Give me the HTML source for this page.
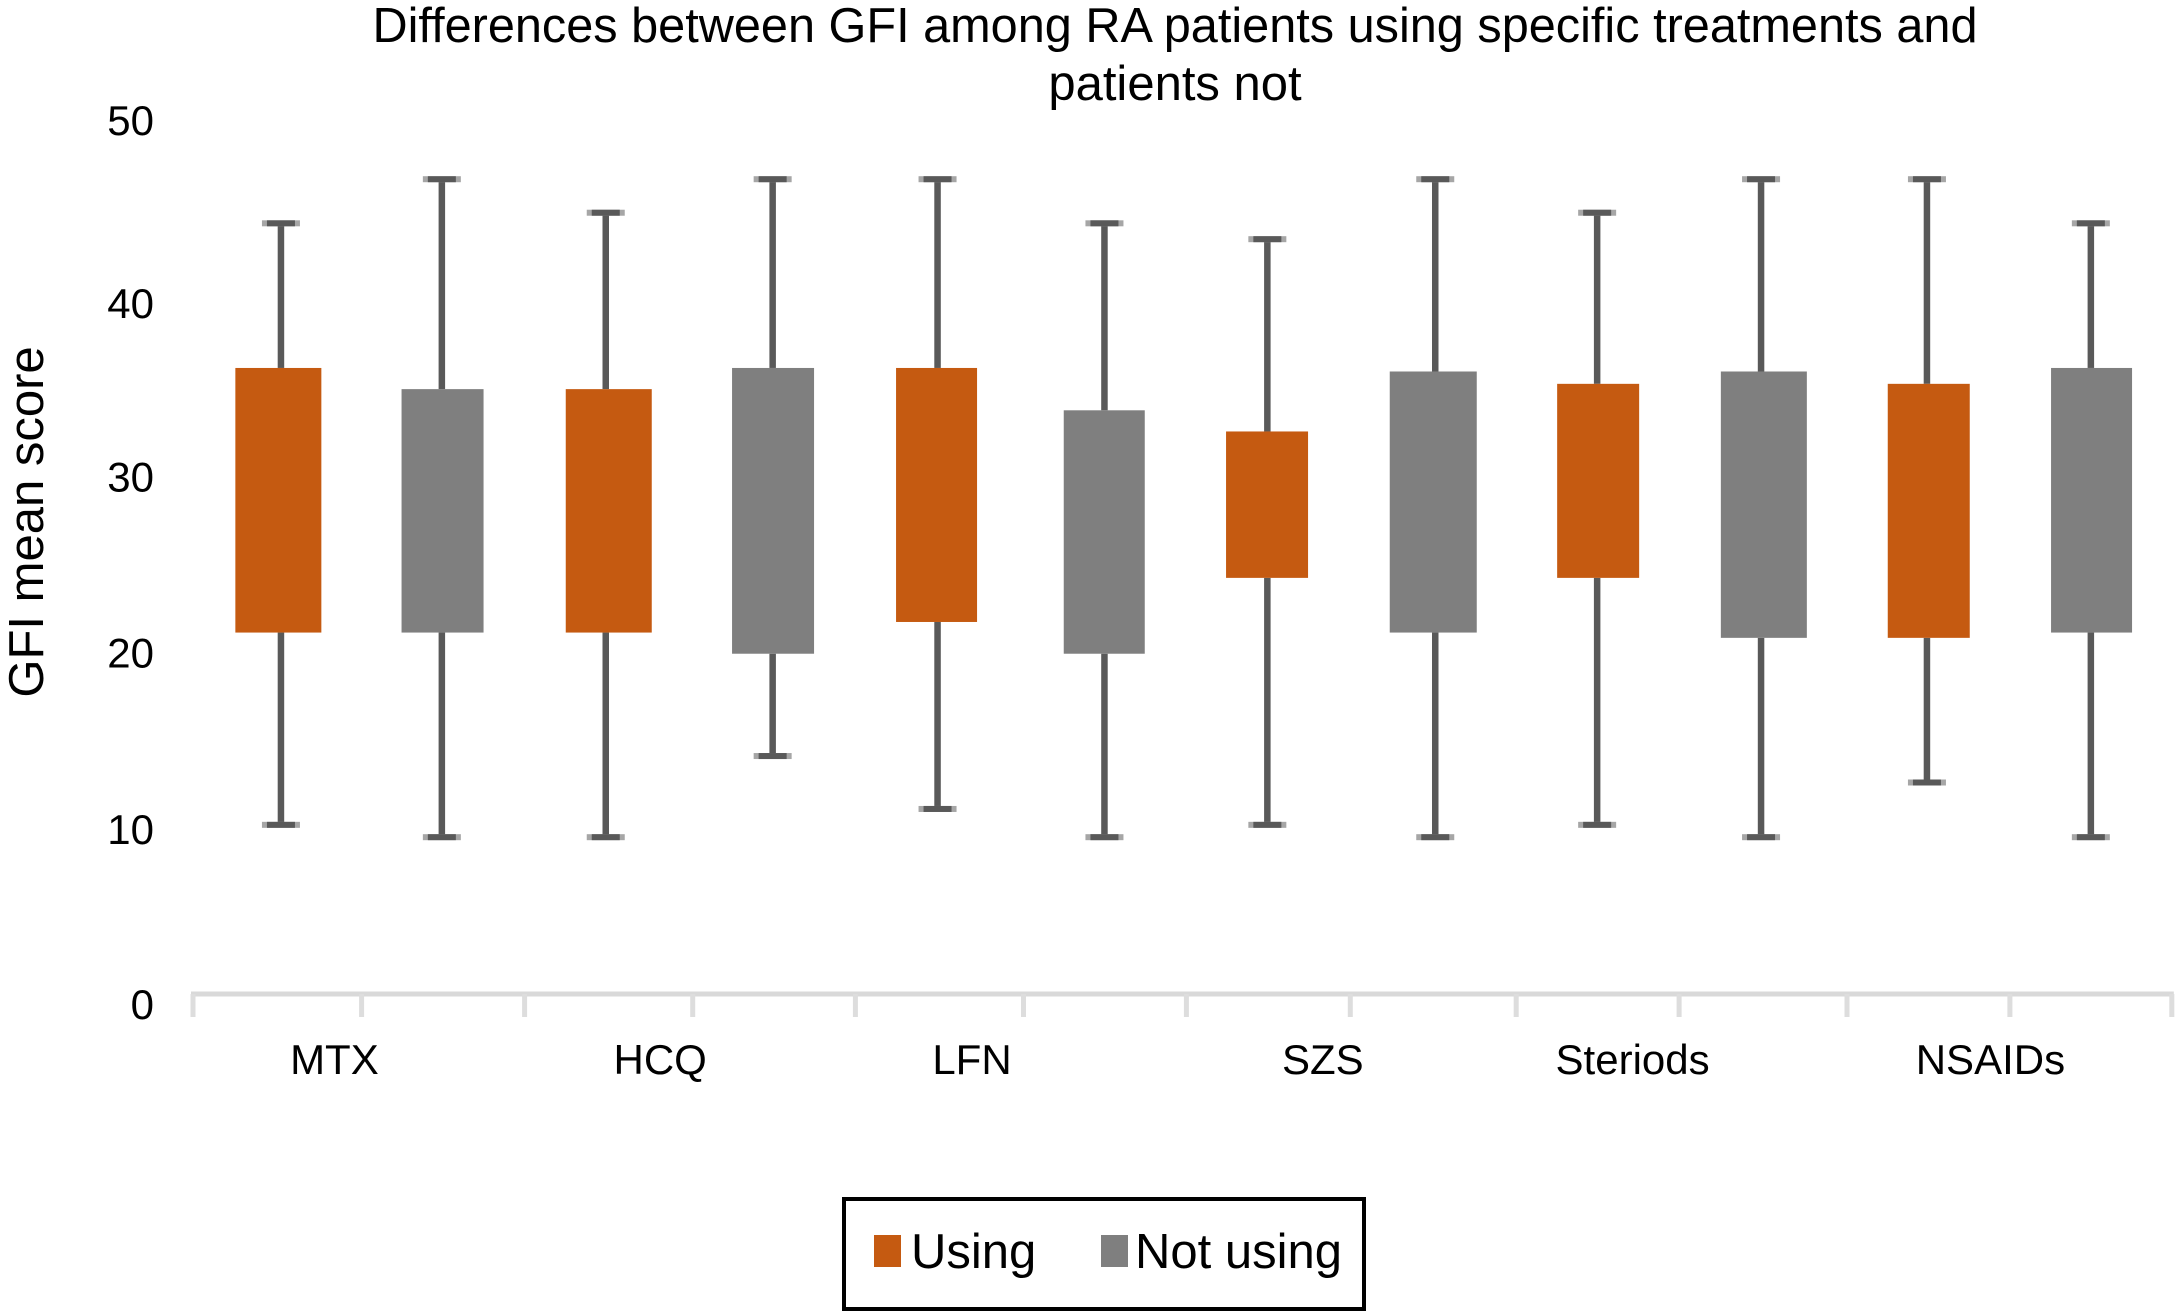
<!DOCTYPE html>
<html lang="en">
<head>
<meta charset="utf-8">
<title>Differences between GFI among RA patients</title>
<style>
html,body{margin:0;padding:0;background:#fff;width:2175px;height:1311px;overflow:hidden}
svg{display:block}
text{font-family:"Liberation Sans",Arial,sans-serif;fill:#000}
</style>
</head>
<body>
<svg id="chart" xmlns="http://www.w3.org/2000/svg" width="2175" height="1311" viewBox="0 0 2175 1311">
  <rect x="0" y="0" width="2175" height="1311" fill="#ffffff"/>
  <text x="1175" y="42" font-size="49" text-anchor="middle" textLength="1605" lengthAdjust="spacingAndGlyphs">Differences between GFI among RA patients using specific treatments and</text>
  <text x="1175" y="100" font-size="49" text-anchor="middle">patients not</text>
  <text transform="translate(43 522) rotate(-90)" font-size="49" text-anchor="middle">GFI mean score</text>
  <g id="y-ticks"></g>
  <g id="x-axis"></g>
  <g id="boxes"></g>
  <g>
    <rect x="844" y="1199" width="520" height="110" fill="#fff" stroke="#000" stroke-width="4"/>
    <rect x="874" y="1235" width="27" height="32" fill="#C55A11"/>
    <text x="911" y="1268" font-size="49">Using</text>
    <rect x="1101" y="1235" width="27" height="32" fill="#7F7F7F"/>
    <text x="1135" y="1268" font-size="49">Not using</text>
  </g>
</svg>
<script>
const categories = ['MTX', 'HCQ', 'LFN', 'SZS', 'Steriods', 'NSAIDs'];
const yTicks = [0, 10, 20, 30, 40, 50];
const usingLow = [10.1, 9.4, 11.0, 10.1, 10.1, 12.5];
const usingQ1 = [21.0, 21.0, 21.6, 24.1, 24.1, 20.7];
const usingQ3 = [36.0, 34.8, 36.0, 32.4, 35.1, 35.1];
const usingHigh = [44.2, 44.8, 46.7, 43.3, 44.8, 46.7];
const notUsingLow = [9.4, 14.0, 9.4, 9.4, 9.4, 9.4];
const notUsingQ1 = [21.0, 19.8, 19.8, 21.0, 20.7, 21.0];
const notUsingQ3 = [34.8, 36.0, 33.6, 35.8, 35.8, 36.0];
const notUsingHigh = [46.7, 46.7, 44.2, 46.7, 46.7, 44.2];

// Layout only: the figure was hand-placed, so these are small pixel nudges, not data.
const categoryLabelShift = [-23.5, -27.5, -45.5, -24.5, -44.5, -16.5];
const yTickLabelShift = [1, 2.5, 2.5, 2.5, 5.5, -1];
const xTickShift = [0, 3.7, 1.8, 5, 2.8, 6, 4, 3, 4, 2, 5, 3, 0];
const whiskerShift = [4, 0, -1, 1, 1, 3, 1, 4, 1, 0, 1, 0];
const boxShift = [1.4, 0.7, 2, 1.4, 0, 2.8, 0.7, 2, 2, 2.8, 2.8, 0.7];
const boxWidth = [86, 82, 86, 82, 81, 81, 82, 87, 82, 86, 82, 81];

const NS = 'http://www.w3.org/2000/svg';
const AXIS_LEFT = 193;
const BAND = 164.9;
const CAP_W = 38;
const WHISKER_W = 6.5;

function y(v) { return 1003 - 17.64 * v; }
function slotCenter(i) { return AXIS_LEFT + BAND * (i + 0.5) + 1.5; }
function make(tag, attrs, parent) {
  const el = document.createElementNS(NS, tag);
  for (const k in attrs) el.setAttribute(k, attrs[k]);
  parent.appendChild(el);
  return el;
}

const yGroup = document.getElementById('y-ticks');
yTicks.forEach(function (t, i) {
  const el = make('text', { x: 154, y: y(t) + yTickLabelShift[i] + 15, 'font-size': 42, 'text-anchor': 'end' }, yGroup);
  
  
  el.textContent = t;
});

const xGroup = document.getElementById('x-axis');
const axisY = y(0) - 9;
const axisLine = make('rect', { x: AXIS_LEFT - 2, y: axisY - 2.5, width: BAND * 12 + 4, height: 5, fill: '#D9D9D9' }, xGroup);


for (let i = 0; i <= categories.length * 2; i++) {
  const tick = make('rect', { x: AXIS_LEFT + BAND * i + xTickShift[i] - 2.5, y: axisY, width: 5, height: 23, fill: '#DDDDDD' }, xGroup);
  
  
}
categories.forEach(function (c, i) {
  const el = make('text', { x: AXIS_LEFT + BAND * (2 * i + 1) + categoryLabelShift[i], y: 1074, 'font-size': 42, 'text-anchor': 'middle' }, xGroup);
  
  
  el.textContent = c;
});

const boxGroup = document.getElementById('boxes');
function drawBox(slot, low, q1, q3, high, color, series) {
  const cx = slotCenter(slot) + whiskerShift[slot];
  const bx = slotCenter(slot) + boxShift[slot];
  const bw = boxWidth[slot];
  const g = make('g', {}, boxGroup);
  
  
  const upper = make('rect', { x: cx - WHISKER_W / 2, y: y(high), width: WHISKER_W, height: y(q3) - y(high), fill: '#595959' }, g);
  
  
  const lower = make('rect', { x: cx - WHISKER_W / 2, y: y(q1), width: WHISKER_W, height: y(low) - y(q1), fill: '#595959' }, g);
  
  
  [high, low].forEach(function (v) {
    const capOuter = make('rect', { x: cx - CAP_W / 2, y: y(v) - 3, width: CAP_W, height: 6, fill: '#A6A6A6' }, g);
    
    
    const capInner = make('rect', { x: cx - CAP_W / 2 + 5, y: y(v) - 3, width: CAP_W - 10, height: 6, fill: '#595959' }, g);
    
    
  });
  const box = make('rect', { x: bx - bw / 2, y: y(q3), width: bw, height: y(q1) - y(q3), fill: color }, g);
  
  
}
categories.forEach(function (c, i) {
  drawBox(2 * i, usingLow[i], usingQ1[i], usingQ3[i], usingHigh[i], '#C55A11', 'using');
  drawBox(2 * i + 1, notUsingLow[i], notUsingQ1[i], notUsingQ3[i], notUsingHigh[i], '#7F7F7F', 'not-using');
});
</script>
</body>
</html>
